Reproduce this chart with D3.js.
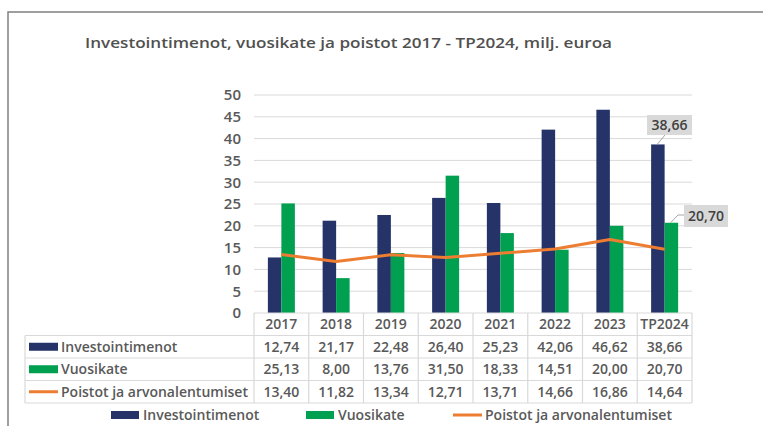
<!DOCTYPE html>
<html>
<head>
<meta charset="utf-8">
<script src="https://cdn.jsdelivr.net/npm/d3@7"></script>
<style>
  body { margin: 0; background: #fff; }
  text { font-family: "Open Sans", "DejaVu Sans", sans-serif; font-weight: 600; fill: #595959; }
</style>
</head>
<body>
<svg id="chart"></svg>
<script>
// data
const years = ["2017", "2018", "2019", "2020", "2021", "2022", "2023", "TP2024"];
const investoinnit = [12.74, 21.17, 22.48, 26.40, 25.23, 42.06, 46.62, 38.66];
const vuosikate = [25.13, 8.00, 13.76, 31.50, 18.33, 14.51, 20.00, 20.70];
const poistot = [13.40, 11.82, 13.34, 12.71, 13.71, 14.66, 16.86, 14.64];
const yTicks = [0, 5, 10, 15, 20, 25, 30, 35, 40, 45, 50];
const seriesNames = ["Investointimenot", "Vuosikate", "Poistot ja arvonalentumiset"];

const w = 763, h = 426;
const navy = "#253368", green = "#00a050", orange = "#ed7d31", grid = "#d9d9d9";
const fmt = v => v.toFixed(2).replace(".", ",");

const svg = d3.select("#chart").attr("width", w).attr("height", h);

// outer frame
svg.append("rect")
   .attr("x", 8).attr("y", 12)
   .attr("width", w + 10).attr("height", h + 10)
   .attr("fill", "none").attr("stroke", "#808080").attr("stroke-width", 1.5);

svg.append("text")
   .attr("x", 85).attr("y", 48)
   .attr("font-size", 15)
   .attr("textLength", 527).attr("lengthAdjust", "spacingAndGlyphs")
   .style("fill", "#505050")
   .text("Investointimenot, vuosikate ja poistot 2017 - TP2024, milj. euroa");

const xScale = d3.scaleBand().domain(years).range([254, 692]);
const yScale = d3.scaleLinear().domain([0, 50]).range([313, 95]);
const inner = d3.scaleBand().domain([0, 1]).range([0, 27]);
const groupOff = (xScale.bandwidth() - 27) / 2;

// gridlines
svg.append("g").selectAll("line")
   .data(yTicks.filter(d => d > 0))
   .join("line")
   .attr("x1", 254).attr("x2", 692)
   .attr("y1", d => yScale(d)).attr("y2", d => yScale(d))
   .attr("stroke", grid).attr("stroke-width", 1);

// y axis labels
const yAxis = d3.axisLeft(yScale).tickValues(yTicks).tickSize(0).tickPadding(0);
const yg = svg.append("g").attr("transform", "translate(241,0)").call(yAxis);
yg.select(".domain").remove();
yg.selectAll("text").attr("font-size", 15).attr("font-family", null).style("fill", "#595959");

// bars
const barSeries = [investoinnit, vuosikate];
const barColors = [navy, green];
barSeries.forEach((vals, si) => {
  svg.append("g").selectAll("rect")
     .data(vals)
     .join("rect")
     .attr("x", (d, i) => xScale(years[i]) + groupOff + inner(si))
     .attr("width", inner.bandwidth())
     .attr("y", d => yScale(d))
     .attr("height", d => yScale(0) - yScale(d))
     .attr("fill", barColors[si]);
});

// line
const line = d3.line()
  .x((d, i) => xScale(years[i]) + xScale.bandwidth() / 2)
  .y(d => yScale(d));
svg.append("path")
   .datum(poistot)
   .attr("fill", "none")
   .attr("stroke", orange)
   .attr("stroke-width", 3)
   .attr("stroke-linejoin", "round")
   .attr("d", line);

// callout labels for the last category
const last = years.length - 1;
const callouts = [
  { v: investoinnit[last], bx: 647, by: 115, bw: 45, bh: 20,
    pts: [[xScale(years[last]) + groupOff + inner(0) + 6, yScale(investoinnit[last])], [665, 135]] },
  { v: vuosikate[last], bx: 684, by: 205, bw: 44, bh: 22,
    pts: [[xScale(years[last]) + groupOff + inner(1) + 6, yScale(vuosikate[last])], [678, 215], [684, 215]] }
];
callouts.forEach(c => {
  svg.append("path")
     .attr("d", d3.line()(c.pts))
     .attr("fill", "none").attr("stroke", "#a6a6a6").attr("stroke-width", 1);
  svg.append("rect")
     .attr("x", c.bx).attr("y", c.by).attr("width", c.bw).attr("height", c.bh)
     .attr("fill", "#d9d9d9");
  svg.append("text")
     .attr("x", c.bx + c.bw / 2).attr("y", c.by + c.bh / 2 + 5)
     .attr("text-anchor", "middle").attr("font-size", 14)
     .style("fill", "#404040")
     .text(fmt(c.v));
});

// data table
const rowTop = [313, 335.5, 358, 380.5];
const rowBottom = 403;
const tableLeft = 25;
const tg = svg.append("g").attr("stroke", grid).attr("stroke-width", 1.2);
// header row lines
tg.append("line").attr("x1", 254).attr("x2", 692).attr("y1", 313).attr("y2", 313);
rowTop.slice(1).concat([rowBottom]).forEach(y => {
  tg.append("line").attr("x1", tableLeft).attr("x2", 692).attr("y1", y).attr("y2", y);
});
years.forEach(yr => {
  tg.append("line").attr("x1", xScale(yr)).attr("x2", xScale(yr)).attr("y1", 313).attr("y2", rowBottom);
});
tg.append("line").attr("x1", 692).attr("x2", 692).attr("y1", 313).attr("y2", rowBottom);
tg.append("line").attr("x1", tableLeft).attr("x2", tableLeft).attr("y1", rowTop[1]).attr("y2", rowBottom);

// header text
svg.append("g").selectAll("text")
   .data(years)
   .join("text")
   .attr("x", d => xScale(d) + xScale.bandwidth() / 2)
   .attr("y", (rowTop[0] + rowTop[1]) / 2 + 5)
   .attr("text-anchor", "middle").attr("font-size", 14)
   .text(d => d);

const tableSeries = [investoinnit, vuosikate, poistot];
const keyColors = [navy, green, orange];
tableSeries.forEach((vals, si) => {
  const y0 = rowTop[si + 1];
  const y1 = si + 2 < rowTop.length ? rowTop[si + 2] : rowBottom;
  const cy = (y0 + y1) / 2;
  if (si < 2) {
    svg.append("rect").attr("x", 29).attr("y", cy - 4).attr("width", 29).attr("height", 8).attr("fill", keyColors[si]);
  } else {
    svg.append("line").attr("x1", 29).attr("x2", 58).attr("y1", cy).attr("y2", cy)
       .attr("stroke", orange).attr("stroke-width", 3);
  }
  svg.append("text").attr("x", 61).attr("y", cy + 5).attr("font-size", 14).text(seriesNames[si]);
  svg.append("g").selectAll("text")
     .data(vals)
     .join("text")
     .attr("x", (d, i) => xScale(years[i]) + xScale.bandwidth() / 2)
     .attr("y", cy + 5)
     .attr("text-anchor", "middle").attr("font-size", 14)
     .text(d => fmt(d));
});

// legend
const legendX = [111, 306, 453];
const legendY = 415;
seriesNames.forEach((name, si) => {
  if (si < 2) {
    svg.append("rect").attr("x", legendX[si]).attr("y", legendY - 4).attr("width", 28).attr("height", 8).attr("fill", keyColors[si]);
  } else {
    svg.append("line").attr("x1", legendX[si]).attr("x2", legendX[si] + 29).attr("y1", legendY).attr("y2", legendY)
       .attr("stroke", orange).attr("stroke-width", 3);
  }
  svg.append("text").attr("x", legendX[si] + 32).attr("y", legendY + 5).attr("font-size", 14).text(name);
});
</script>
</body>
</html>
